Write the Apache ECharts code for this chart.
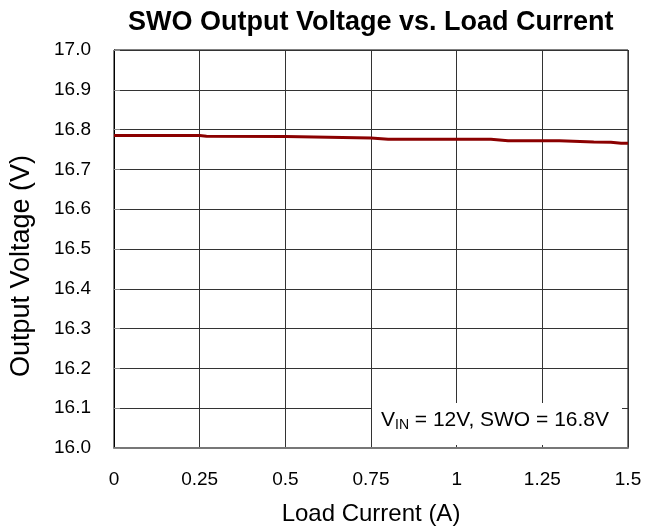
<!DOCTYPE html>
<html>
<head>
<meta charset="utf-8">
<script src="https://cdn.jsdelivr.net/npm/echarts@6/dist/echarts.min.js"></script>
<style>html,body{margin:0;padding:0;background:#fff}#c{width:658px;height:531px}</style>
</head>
<body>
<div id="c"></div>
<script>
const titleText = 'SWO Output Voltage vs. Load Current';
const xAxisName = 'Load Current (A)';
const yAxisName = 'Output Voltage (V)';
const loadCurrent = [0, 0.25, 0.27, 0.5, 0.75, 0.8, 1.1, 1.15, 1.3, 1.4, 1.45, 1.48, 1.5];
const outputVoltage = [16.785, 16.785, 16.7835, 16.7828, 16.779, 16.7755, 16.7755, 16.772, 16.772, 16.769, 16.768, 16.766, 16.766];
const xTickLabels = ['0', '0.25', '0.5', '0.75', '1', '1.25', '1.5'];
const yTickLabels = ['16.0', '16.1', '16.2', '16.3', '16.4', '16.5', '16.6', '16.7', '16.8', '16.9', '17.0'];

const FONT = '"Liberation Sans", Arial, sans-serif';
const chart = echarts.init(document.getElementById('c'));
const data = loadCurrent.map((x, i) => [x, outputVoltage[i]]);

chart.setOption({
  animation: false,
  backgroundColor: '#fff',
  title: {
    text: titleText,
    left: 123, top: 4,
    textStyle: { fontFamily: FONT, fontWeight: 'bold', fontSize: 27, color: '#000' }
  },
  grid: { left: 114, right: 30, top: 50, bottom: 81, show: true, borderColor: '#000', borderWidth: 1 },
  xAxis: {
    type: 'value', min: 0, max: 1.5, interval: 0.25,
    name: xAxisName, nameLocation: 'middle', nameGap: 54,
    nameTextStyle: { fontFamily: FONT, fontSize: 24, color: '#000' },
    axisLine: { show: true, onZero: false, lineStyle: { color: '#777', width: 2 } },
    axisTick: { show: false },
    axisLabel: {
      margin: 22, fontFamily: FONT, fontSize: 19, color: '#000',
      formatter: (v) => xTickLabels[Math.round(v / 0.25)]
    },
    splitLine: { show: true, lineStyle: { color: '#333', width: 1 } }
  },
  yAxis: {
    type: 'value', min: 16.0, max: 17.0, interval: 0.1,
    name: yAxisName, nameLocation: 'middle', nameGap: 79,
    nameTextStyle: { fontFamily: FONT, fontSize: 27, color: '#000', padding: [0, 34, 0, 0] },
    axisLine: { show: true, lineStyle: { color: '#000', width: 1 } },
    axisTick: { show: true, inside: true, length: 6, lineStyle: { color: '#888' } },
    axisLabel: {
      margin: 23, fontFamily: FONT, fontSize: 19, color: '#000',
      formatter: (v) => yTickLabels[Math.round((v - 16) * 10)]
    },
    splitLine: { show: true, lineStyle: { color: '#333', width: 1 } }
  },
  series: [{
    type: 'line', data: data, showSymbol: false, smooth: false,
    lineStyle: { color: '#8B0000', width: 3 }, z: 5
  }],
  graphic: [
    { type: 'rect', shape: { x: 372, y: 403, width: 250, height: 42 }, style: { fill: '#fff' }, z: 100 },
    {
      type: 'text', left: 381, top: 410, z: 101,
      style: {
        text: 'V{sub|IN} = 12V, SWO = 16.8V',
        font: '21px ' + FONT,
        fill: '#000',
        rich: {
          sub: { fontSize: 14, fontFamily: FONT, fill: '#000', verticalAlign: 'bottom', lineHeight: 24 }
        }
      }
    }
  ]
});
</script>
</body>
</html>
